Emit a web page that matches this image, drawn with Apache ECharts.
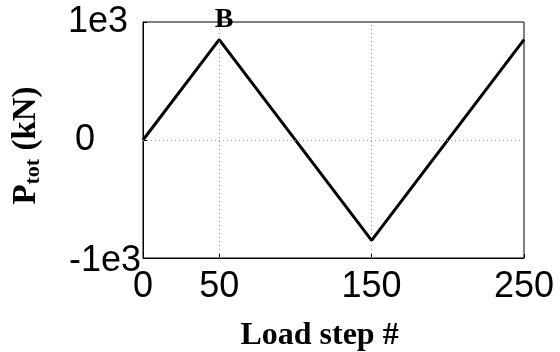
<!DOCTYPE html>
<html>
<head>
<meta charset="utf-8">
<script src="https://cdn.jsdelivr.net/npm/echarts@6/dist/echarts.min.js"></script>
<style>html,body{margin:0;padding:0;background:#fff}#c{width:560px;height:352px}</style>
</head>
<body>
<div id="c"></div>
<script>
// Data
const loadSteps = [0, 50, 150, 250];
const pTot = [0, 850, -850, 850];
const xTickValues = [0, 50, 150, 250];
const yTickValues = [-1000, 0, 1000];
const yTickLabels = ['-1e3', '0', '1e3'];
const xGridValues = [50, 150];
const yGridValues = [0];
const annotX = [50];
const annotY = [1000];
const annotText = ['B'];

const chart = echarts.init(document.getElementById('c'), null, {renderer: 'canvas'});
const labelFont = {fontFamily: 'Liberation Sans', fontSize: 36, color: '#000'};
const gridLineStyle = {color: '#999', type: [1, 3], width: 1};
const yLabelStyleKeys = ['lo', 'mid', 'hi'];

chart.setOption({
  animation: false,
  grid: {left: 143, right: 36, top: 22, bottom: 94, show: true, borderColor: '#000', borderWidth: 1,
         containLabel: false, outerBoundsMode: 'none'},
  xAxis: {
    type: 'value', min: 0, max: 250, interval: 50,
    axisLine: {show: true, onZero: false, lineStyle: {color: '#000', width: 1}},
    axisTick: {show: true, inside: true, length: 4, customValues: xTickValues, lineStyle: {color: '#000'}},
    axisLabel: Object.assign({customValues: xTickValues, margin: 11}, labelFont),
    splitLine: {show: false},
    name: 'Load step #', nameLocation: 'middle', nameGap: 62,
    nameTextStyle: {fontFamily: 'Liberation Serif', fontWeight: 'bold', fontSize: 32, color: '#000', padding: [0, 28, 0, 0]}
  },
  yAxis: {
    type: 'value', min: -1000, max: 1000, interval: 1000,
    axisLine: {show: true, onZero: false, lineStyle: {color: '#000', width: 1}},
    axisTick: {show: true, inside: true, length: 4, lineStyle: {color: '#000'}},
    axisLabel: Object.assign({
      margin: 2,
      formatter: v => {
        const i = yTickValues.indexOf(v);
        return '{' + yLabelStyleKeys[i] + '|' + yTickLabels[i] + '}';
      },
      rich: {
        lo: Object.assign({padding: [6, 0, 0, 0]}, labelFont),
        mid: Object.assign({padding: [0, 46, 0, 0]}, labelFont),
        hi: Object.assign({padding: [0, 13, 0, 0]}, labelFont)
      }
    }, labelFont),
    splitLine: {show: false},
    name: '{b|P}{s|tot}{b| (kN)}', nameLocation: 'middle', nameGap: 99,
    nameTextStyle: {
      padding: [0, 11, 0, 0],
      rich: {
        b: {fontFamily: 'Liberation Serif', fontWeight: 'bold', fontSize: 33, color: '#000'},
        s: {fontFamily: 'Liberation Serif', fontWeight: 'bold', fontSize: 22, color: '#000', padding: [14, 0, 0, 0]}
      }
    }
  },
  series: [
    {
      type: 'line',
      data: loadSteps.map((x, i) => [x, pTot[i]]),
      showSymbol: false,
      lineStyle: {color: '#000', width: 3},
      z: 3,
      markLine: {
        silent: true, symbol: ['none', 'none'], label: {show: false},
        lineStyle: gridLineStyle, animation: false,
        data: xGridValues.map(v => ({xAxis: v})).concat(yGridValues.map(v => ({yAxis: v})))
      }
    },
    {
      type: 'scatter',
      data: annotX.map((x, i) => ({value: [x, annotY[i]], name: annotText[i]})),
      symbolSize: 0,
      itemStyle: {opacity: 1, color: '#000'},
      z: 5,
      label: {
        show: true, position: 'inside', offset: [5, -2], formatter: p => p.name,
        fontFamily: 'Liberation Serif', fontWeight: 'bold', fontSize: 28, color: '#000', opacity: 1
      }
    }
  ]
});
</script>
</body>
</html>
